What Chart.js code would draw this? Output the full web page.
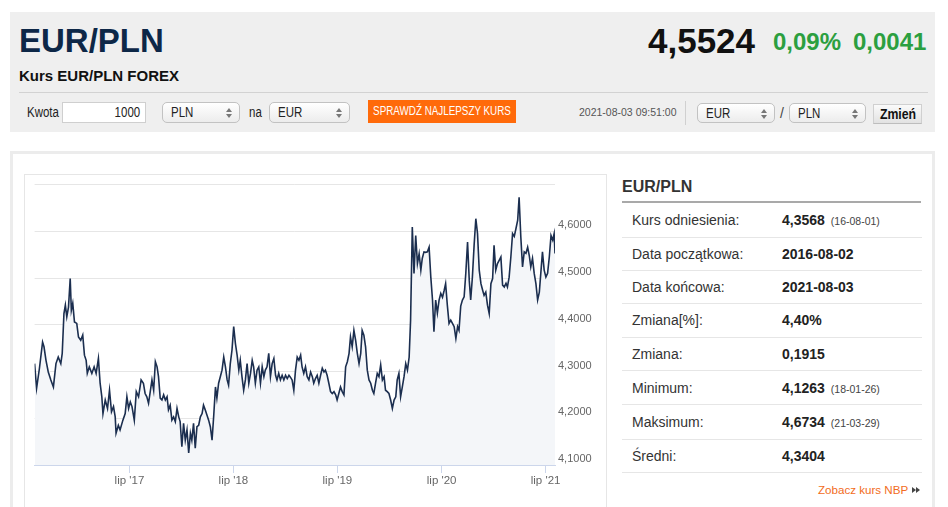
<!DOCTYPE html>
<html><head><meta charset="utf-8">
<script src="https://cdn.jsdelivr.net/npm/chart.js@4.4.1/dist/chart.umd.min.js"></script>
<style>
html,body{margin:0;padding:0}
body{width:948px;height:507px;overflow:hidden;background:#fff;font-family:Arial,"Liberation Sans",Helvetica,sans-serif;position:relative}
.a{position:absolute;white-space:nowrap;line-height:1}
.n{display:inline-block;transform:scaleX(.82);transform-origin:left center;white-space:nowrap}
.nr{transform-origin:right center}
.nc{position:absolute;left:50%;top:0;transform:translateX(-50%) scaleX(.82);transform-origin:center center}
#top{left:10px;top:12px;width:925px;height:120px;background:#efefef}
.sel{position:absolute;box-sizing:border-box;height:21px;border:1px solid #c2c2c2;border-radius:5px;background:linear-gradient(#ffffff,#ececec);font-size:14px;line-height:19px;padding-left:8px;color:#222}
.sel i{position:absolute;right:7px;top:5px;width:0;height:0;border-left:3px solid transparent;border-right:3px solid transparent;border-bottom:4px solid #777}
.sel b{position:absolute;right:7px;top:11px;width:0;height:0;border-left:3px solid transparent;border-right:3px solid transparent;border-top:4px solid #777}
#panel{left:10px;top:151px;width:925px;height:380px;box-sizing:border-box;border:3px solid #ececec;border-bottom:none;background:#fff}
#cbox{left:24px;top:174px;width:583px;height:360px;box-sizing:border-box;border:1px solid #e6e6e6;background:#fff}
.row{position:absolute;left:622px;width:300px;border-bottom:1px solid #e6e6e6;box-sizing:border-box}
.row .l{position:absolute;left:10px;top:50%;transform:translateY(-50%);font-size:14px;color:#333;white-space:nowrap}
.row .v{position:absolute;left:160px;top:50%;transform:translateY(-50%);font-size:14px;font-weight:bold;color:#222;white-space:nowrap}
.row .v small{font-size:10.5px;font-weight:normal;color:#444;margin-left:6px}
</style>
</head><body>
<div id="top" class="a"></div>
<div class="a" style="left:19px;top:23.5px;font-size:33px;font-weight:bold;color:#0d2747">EUR/PLN</div>
<div class="a" style="left:19px;top:67.5px;font-size:15px;font-weight:bold;color:#111">Kurs EUR/PLN FOREX</div>
<div class="a" style="left:648px;top:22.5px;font-size:35px;font-weight:bold;color:#111">4,5524</div>
<div class="a" style="left:773px;top:30px;font-size:24px;font-weight:bold;color:#2c9f3f">0,09%</div>
<div class="a" style="left:853px;top:30px;font-size:24px;font-weight:bold;color:#2c9f3f">0,0041</div>
<div class="a" style="left:19px;top:92px;width:909px;height:1px;background:#d2d2d2"></div>

<div class="a" style="left:27px;top:105px;font-size:14px;color:#222"><span class="n">Kwota</span></div>
<div class="a" style="left:62px;top:101.5px;width:84px;height:21px;box-sizing:border-box;border:1px solid #cfcfcf;background:#fff;font-size:14px;line-height:19px;text-align:right;padding-right:5px;color:#222"><span class="n nr">1000</span></div>
<div class="sel" style="left:162px;top:101.5px;width:78px"><span class="n">PLN</span><i></i><b></b></div>
<div class="a" style="left:249px;top:105px;font-size:14px;color:#222"><span class="n">na</span></div>
<div class="sel" style="left:269px;top:101.5px;width:81px"><span class="n">EUR</span><i></i><b></b></div>
<div class="a" style="left:368px;top:100px;width:148px;height:23px;background:#ff6a0a;color:#fff;font-size:12px;line-height:23px"><span class="nc">SPRAWDŹ NAJLEPSZY KURS</span></div>
<div class="a" style="left:579px;top:107px;font-size:10.5px;color:#555">2021-08-03 09:51:00</div>
<div class="a" style="left:685px;top:101px;width:1px;height:24px;background:#d0d0d0"></div>
<div class="sel" style="left:697px;top:103px;width:78px;height:20px;line-height:18px"><span class="n">EUR</span><i></i><b></b></div>
<div class="a" style="left:780px;top:106px;font-size:14px;color:#444">/</div>
<div class="sel" style="left:789px;top:103px;width:77px;height:20px;line-height:18px"><span class="n">PLN</span><i></i><b></b></div>
<div class="a" style="left:873px;top:104px;width:49px;height:20px;box-sizing:border-box;border:1px solid #d0d0d0;border-bottom-color:#bdbdbd;background:linear-gradient(#fafafa,#e2e2e2);font-size:15px;font-weight:bold;line-height:18px;color:#111"><span class="nc">Zmień</span></div>

<div id="panel" class="a"></div>
<div id="cbox" class="a"></div>
<canvas id="c" style="position:absolute;left:25px;top:175px;width:581px;height:332px"></canvas>

<div class="a" style="left:622px;top:179px;font-size:16px;font-weight:bold;color:#333">EUR/PLN</div>
<div class="a" style="left:622px;top:201px;width:299px;height:2px;background:#a9a9a9"></div>
<div id="rows"></div>
<div class="a" style="left:818px;top:484px;font-size:11.6px;color:#f26c22">Zobacz kurs NBP</div>
<div class="a" style="left:912px;top:487px;width:0;height:0;border-top:3px solid transparent;border-bottom:3px solid transparent;border-left:4px solid #444"></div>
<div class="a" style="left:916px;top:487px;width:0;height:0;border-top:3px solid transparent;border-bottom:3px solid transparent;border-left:4px solid #444"></div>

<script>
const startDate = '2016-08-02';
const endDate = '2021-08-03';
// day offsets from startDate
const days = [0,7,17,28,33,40,48,57,66,75,83,92,97,103,108,113,119,125,129,134,140,148,154,162,169,175,181,185,192,201,209,216,224,230,236,240,248,256,263,270,277,283,286,294,300,310,318,324,330,336,342,350,357,365,374,382,388,394,400,406,412,418,424,430,435,441,
447,453,459,465,470,476,482,488,494,500,
506,511,517,523,529,535,541,547,552,558,
564,570,576,582,588,593,599,605,611,617,
623,629,635,640,646,652,658,664,670,676,
681,687,693,699,705,711,717,722,728,734,
740,746,752,758,764,769,775,781,787,793,
799,805,810,816,822,828,834,840,846,851,
857,863,869,875,881,887,893,898,904,910,
916,922,928,934,939,945,951,957,963,969,
975,980,986,992,998,1004,1010,1016,1021,1027,
1033,1039,1045,1051,1057,1062,1068,1074,1080,1086,
1092,1098,1104,1109,1115,1121,1127,1133,1139,1145,
1150,1156,1162,1168,1174,1180,1186,1191,1197,1203,
1209,1215,1221,1227,1232,1238,1244,1250,1256,1262,
1268,1273,1279,1285,1291,1297,1303,1309,1315,1320,
1326,1332,1338,1344,1350,1356,1361,1367,1373,1379,
1385,1391,1397,1402,1408,1414,1420,1426,1432,1438,
1443,1449,1455,1461,1467,1473,1479,1485,1490,1496,
1502,1508,1514,1520,1526,1531,1537,1543,1549,1555,
1561,1567,1573,1578,1584,1590,1596,1602,1608,1613,
1619,1625,1631,1637,1643,1649,1655,1660,1666,1672,
1678,1684,1690,1696,1701,1707,1713,1719,1725,1731,
1737,1742,1748,1754,1760,1766,1772,1778,1783,1789,
1795,1801,1807,1813,1819,1824,1827];
const rates = [4.317,4.264,4.307,4.363,4.353,4.324,4.299,4.282,4.267,4.317,4.331,4.317,4.339,4.424,4.442,4.417,4.438,4.499,4.431,4.446,4.406,4.403,4.374,4.367,4.378,4.335,4.324,4.296,4.310,4.296,4.310,4.296,4.328,4.275,4.246,4.210,4.239,4.221,4.260,4.214,4.225,4.203,4.168,4.185,4.175,4.196,4.210,4.246,4.221,4.235,4.225,4.196,4.257,4.246,4.282,4.275,4.253,4.246,4.232,4.257,4.282,4.260,4.321,4.310,4.289,4.243,
4.239,4.250,4.239,4.246,4.218,4.228,4.196,4.203,4.193,4.221,
4.203,4.193,4.139,4.189,4.153,4.175,4.126,4.168,4.153,4.189,
4.136,4.182,4.185,4.203,4.210,4.228,4.218,4.207,4.196,4.182,
4.153,4.207,4.267,4.243,4.275,4.289,4.303,4.331,4.310,4.282,
4.271,4.317,4.346,4.396,4.360,4.335,4.303,4.324,4.289,4.260,
4.282,4.317,4.275,4.296,4.324,4.310,4.275,4.303,4.310,4.275,
4.310,4.289,4.303,4.310,4.339,4.289,4.317,4.328,4.292,4.282,
4.296,4.282,4.292,4.282,4.292,4.285,4.292,4.288,4.282,4.260,
4.303,4.331,4.324,4.335,4.310,4.296,4.310,4.289,4.282,4.299,
4.289,4.275,4.285,4.292,4.275,4.292,4.307,4.299,4.303,4.292,
4.275,4.257,4.253,4.257,4.250,4.239,4.253,4.267,4.257,4.250,
4.310,4.321,4.339,4.374,4.353,4.388,4.367,4.339,4.317,4.339,
4.388,4.378,4.353,4.303,4.282,4.275,4.260,4.253,4.275,4.296,
4.289,4.314,4.282,4.289,4.260,4.257,4.253,4.239,4.221,4.239,
4.246,4.282,4.296,4.246,4.267,4.289,4.317,4.303,4.331,4.410,
4.609,4.510,4.591,4.531,4.552,4.517,4.542,4.556,4.555,4.556,
4.566,4.502,4.453,4.385,4.453,4.425,4.453,4.467,4.459,4.474,
4.488,4.442,4.403,4.410,4.403,4.396,4.371,4.396,4.388,4.440,
4.453,4.460,4.512,4.577,4.495,4.453,4.502,4.570,4.627,4.595,
4.517,4.488,4.474,4.463,4.470,4.442,4.424,4.488,4.499,4.570,
4.517,4.531,4.538,4.545,4.485,4.481,4.489,4.481,4.502,4.545,
4.595,4.589,4.606,4.624,4.673,4.588,4.524,4.556,4.553,4.566,
4.547,4.524,4.542,4.510,4.488,4.453,4.470,4.517,4.556,4.517,
4.502,4.510,4.545,4.591,4.581,4.595,4.5524];
const tickDates = ['2017-07-01','2018-07-01','2019-07-01','2020-07-01','2021-07-01'];
const tickLabels = ["lip '17","lip '18","lip '19","lip '20","lip '21"];
const yMin = 4.1, yMax = 4.7, yStep = 0.1;

const statLabels = ['Kurs odniesienia:','Data początkowa:','Data końcowa:','Zmiana[%]:','Zmiana:','Minimum:','Maksimum:','Średni:'];
const statValues = ['4,3568','2016-08-02','2021-08-03','4,40%','0,1915','4,1263','4,6734','4,3404'];
const statNotes = ['(16-08-01)','','','','','(18-01-26)','(21-03-29)',''];
const rowLines = [202, 236.7, 270, 303.3, 336.7, 370, 404.3, 439, 472.3];

const rowsEl = document.getElementById('rows');
statLabels.forEach((lab, i) => {
  const r = document.createElement('div');
  r.className = 'row';
  r.style.top = (rowLines[i] + 1) + 'px';
  r.style.height = (rowLines[i + 1] - rowLines[i]) + 'px';
  r.innerHTML = '<span class="l">' + lab + '</span><span class="v">' + statValues[i] +
    (statNotes[i] ? '<small>' + statNotes[i] + '</small>' : '') + '</span>';
  rowsEl.appendChild(r);
});

const dayOf = d => Math.round((Date.parse(d) - Date.parse(startDate)) / 86400000);
const totalDays = dayOf(endDate);
const tickDays = tickDates.map(dayOf);
const pts = days.map((d, i) => ({x: d, y: rates[i]}));

Chart.defaults.font.family = 'Arial, "Liberation Sans", sans-serif';
const cv = document.getElementById('c');
cv.width = 581; cv.height = 332;
new Chart(cv, {
  type: 'line',
  data: { datasets: [{
    data: pts,
    borderColor: '#1b2e4f',
    borderWidth: 1.6,
    backgroundColor: '#f4f6f9',
    fill: 'start',
    pointRadius: 0,
    tension: 0
  }]},
  options: {
    responsive: false,
    animation: false,
    devicePixelRatio: 1,
    layout: { padding: { left: 9.6, top: 8.3, right: 0, bottom: 0 } },
    plugins: { legend: { display: false }, tooltip: { enabled: false } },
    scales: {
      x: {
        type: 'linear', position: 'bottom', min: 0, max: totalDays,
        afterBuildTicks: s => { s.ticks = tickDays.map(v => ({value: v})); },
        afterFit: s => { s.height = 42; },
        grid: { drawOnChartArea: false, drawTicks: true, tickLength: 8, color: '#ccd6eb', lineWidth: 1 },
        border: { display: true, color: '#ccd6eb', width: 1 },
        ticks: {
          autoSkip: false, maxRotation: 0, minRotation: 0, padding: 1,
          color: '#666', font: { size: 11.5 },
          callback: v => { const i = tickDays.indexOf(v); return i >= 0 ? tickLabels[i] : ''; }
        }
      },
      y: {
        type: 'linear', position: 'right', min: yMin, max: yMax,
        afterFit: s => { s.width = 51; },
        grid: { drawTicks: false, lineWidth: 1,
          color: c => (Math.abs(c.tick.value - yMin) < 1e-6 ? 'rgba(0,0,0,0)' : '#e6e6e6') },
        border: { display: false },
        ticks: {
          stepSize: yStep, padding: 3, labelOffset: -6, color: '#666', font: { size: 11 },
          callback: v => (Math.abs(v - yMax) < 1e-6 ? '' : v.toFixed(4).replace('.', ','))
        }
      }
    }
  }
});
</script>
</body></html>
